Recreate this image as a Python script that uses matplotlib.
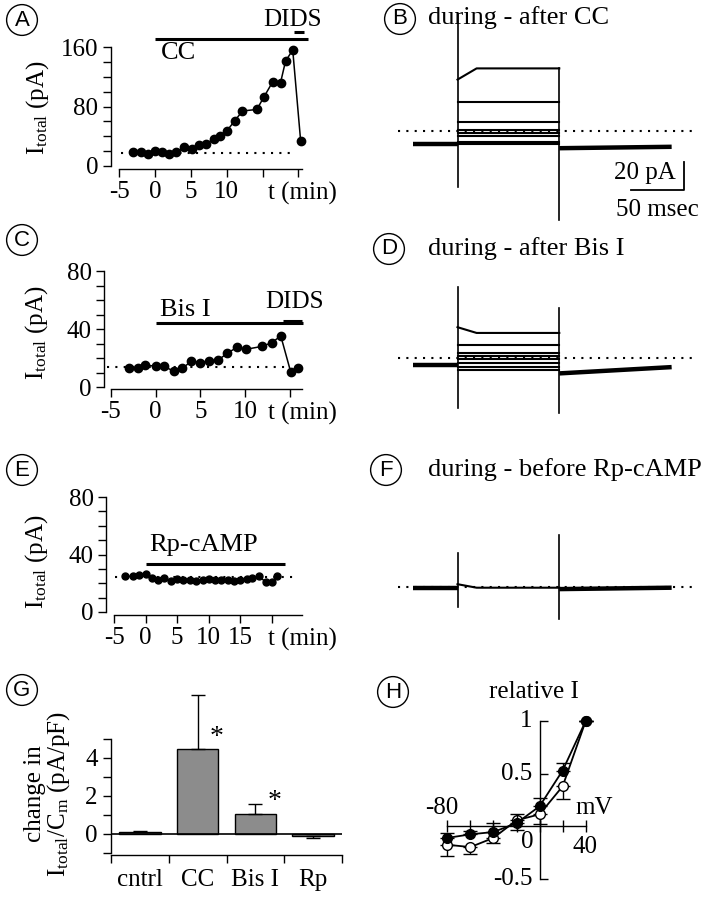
import matplotlib
matplotlib.use('Agg')
import matplotlib.pyplot as plt
from matplotlib.ticker import FixedLocator, NullFormatter

W, H = 709, 900
plt.rcParams['font.family'] = ['Liberation Serif', 'DejaVu Serif']
plt.rcParams['mathtext.fontset'] = 'custom'
plt.rcParams['mathtext.rm'] = 'Liberation Serif'
plt.rcParams['mathtext.it'] = 'Liberation Serif:italic'
plt.rcParams['font.size'] = 18
plt.rcParams['axes.linewidth'] = 1.0
plt.rcParams['xtick.major.width'] = 1.0
plt.rcParams['ytick.major.width'] = 1.0
plt.rcParams['ytick.minor.width'] = 1.0

# ---------------- data ----------------
# Panel A (CC)
a_t = [-3.1, -2.0, -1.0, 0.0, 1.0, 2.0, 3.0, 4.1, 5.1, 6.1, 7.1, 8.2, 9.0, 10.0,
       11.1, 12.2, 14.2, 15.2, 16.4, 17.5, 18.2, 19.2, 20.3]
a_I = [18.8, 18.4, 16.6, 19.7, 18.4, 15.7, 18.8, 25, 23, 28, 30, 36, 41, 47,
       60.5, 74, 76, 93, 113, 112, 141, 156, 34]
a_base = 17
a_xticks = [-5, 0, 5, 10, 15, 20]
a_xlabels = ['-5', '0', '5', '10', '', '']

# Panel C (Bis I)
c_t = [-3.0, -2.0, -1.2, 0.0, 0.9, 2.0, 3.0, 4.0, 5.0, 6.0, 7.0, 8.0, 9.1, 10.1,
       11.9, 13.0, 14.0, 15.1, 15.9]
c_I = [13.3, 13.3, 15.2, 14.3, 14.3, 11.0, 12.9, 17.9, 16.8, 18.2, 18.6, 23.2,
       27.4, 26.0, 28.0, 30.6, 35.2, 10.6, 13.3]
c_base = 13.8
c_xticks = [-5, 0, 5, 10, 15]
c_xlabels = ['-5', '0', '5', '10', '']

# Panel E (Rp-cAMP)
e_t = [-3.2, -2.0, -1.0, 0.0, 1.0, 1.9, 2.9, 4.1, 5.0, 6.0, 7.0, 8.0, 9.1, 10.1,
       11.0, 12.0, 13.0, 14.0, 15.0, 16.0, 16.9, 17.9, 19.0, 20.0, 20.8]
e_I = [24.8, 24.8, 25.7, 26.2, 23.4, 22.5, 23.4, 21.6, 22.7, 22.5, 22.0, 21.4,
       22.3, 23.0, 22.4, 22.0, 22.0, 21.4, 22.3, 22.7, 23.4, 24.8, 21.1, 21.1, 24.8]
e_base = 24.3
e_xticks = [-5, 0, 5, 10, 15, 20]
e_xlabels = ['-5', '0', '5', '10', '15', '']

time_label = 't (min)'

# Panel G
g_cats = ['cntrl', 'CC', 'Bis I', 'Rp']
g_mean = [0.1, 4.47, 1.05, -0.1]
g_err = [0.05, 2.85, 0.55, 0.12]

# Panel H
h_mv = [-80, -60, -40, -20, 0, 20, 40]
h_filled = [-0.11, -0.076, -0.054, 0.03, 0.19, 0.53, 1.0]
h_filled_err = [0.044, 0.032, 0.085, 0.083, 0.076, 0.076, 0.0]
h_open = [-0.175, -0.197, -0.11, 0.057, 0.114, 0.38, 1.0]
h_open_err = [0.108, 0.063, 0.05, 0.095, 0.095, 0.12, 0.0]

# Current traces (ms, pA relative to holding)
tr_time = [0, 42, 138, 244]          # start, pulse on, pulse off, end
B_steps = [54, 30, 15.7, 10, 7.9, 5.7, 1.4, 0]
B_onset = 46
B_tail = [-3, -2]
B_spike_on = [93, -31]
B_spike_off = [54, -54]
B_dot = 9.3

D_steps = [22.9, 14.3, 8.6, 6.4, 4.3, 1.4, -1.4, -3.6]
D_onset = 27
D_tail = [-6, -1.5]
D_spike_on = [55.7, -30.7]
D_spike_off = [40.7, -34]
D_dot = 5

F_steps = [0]
F_onset = 2.5
F_tail = [-1, 0]
F_spike_on = [25, -13.6]
F_spike_off = [37.6, -22.6]
F_dot = 0.7

fig = plt.figure(figsize=(W / 100, H / 100), dpi=100)


def px_axes(x0, x1, y0, y1):
    return fig.add_axes([x0 / W, 1 - y0 / H, (x1 - x0) / W, (y0 - y1) / H])


def px2pt(p):
    return p * 72 / 100


def circ_label(x, y, s):
    fig.text(x / W, 1 - y / H, s, family=['Liberation Sans', 'DejaVu Sans'],
             fontsize=16, ha='center', va='center',
             bbox=dict(boxstyle='circle,pad=0.22', fc='white', ec='k', lw=1.0))


def style_time_axes(ax, left_off, bot_off, yticks, yminor, xticks, xlabels, tlabel_x):
    for s in ['top', 'right']:
        ax.spines[s].set_visible(False)
    ax.spines['left'].set_position(('outward', px2pt(left_off)))
    ax.spines['bottom'].set_position(('outward', px2pt(bot_off)))
    ax.set_yticks(yticks)
    ax.set_yticklabels([str(v) for v in yticks])
    ax.yaxis.set_minor_locator(FixedLocator(yminor))
    ax.set_xticks(xticks)
    ax.set_xticklabels(xlabels)
    ax.set_xticks([tlabel_x], minor=True)
    ax.set_xticklabels([time_label], minor=True)
    ax.tick_params(axis='both', which='both', direction='out', length=6, labelsize=18, pad=3)
    ax.tick_params(axis='x', which='minor', length=0, pad=9)
    ax.tick_params(axis='y', which='minor', length=6)
    ax.patch.set_alpha(0)


dot_ls = (0, (1, 3))

# ---------------- Panel A ----------------
ax = px_axes(119, 302, 166, 47)
ax.set_xlim(-5, 20)
ax.set_ylim(0, 160)
style_time_axes(ax, 8, 3, [0, 80, 160], list(range(0, 161, 20)), a_xticks, a_xlabels,
                (306 - 156) / 7.32)
ax.plot([-4.7, 19.6], [a_base, a_base], ls=dot_ls, lw=1.5, color='k')
ax.plot(a_t, a_I, '-o', color='k', ms=6, lw=1.1, clip_on=False)
ax.plot([0, 21.3], [171, 171], color='k', lw=2.2, clip_on=False, solid_capstyle='butt')
ax.text(0.9, 152, 'CC', ha='left', va='center', fontsize=19)
ax.plot([19.4, 20.8], [180, 180], color='k', lw=2.2, clip_on=False, solid_capstyle='butt')
ax.text(19.2, 196, 'DIDS', ha='center', va='center', fontsize=18)
ax.set_ylabel(r'I$_{\rm total}$ (pA)', fontsize=18)
ax.yaxis.set_label_coords(-0.37, 0.49)
circ_label(22, 20, 'A')

# ---------------- Panel C ----------------
ax = px_axes(111, 302, 387, 271)
ax.set_xlim(-5, 16)
ax.set_ylim(0, 80)
style_time_axes(ax, 7, 2, [0, 40, 80], list(range(0, 81, 10)), c_xticks, c_xlabels,
                (306 - 157) / 9.1)
ax.plot([-5.5, 14.6], [c_base, c_base], ls=dot_ls, lw=1.5, color='k', clip_on=False)
ax.plot(c_t, c_I, '-o', color='k', ms=6, lw=1.1, clip_on=False)
ax.plot([0, 16.5], [44, 44], color='k', lw=2.2, clip_on=False, solid_capstyle='butt')
ax.text(3.3, 53, 'Bis I', ha='center', va='center', fontsize=19)
ax.plot([14.3, 16.4], [45.5, 45.5], color='k', lw=2.2, clip_on=False, solid_capstyle='butt')
ax.text(15.5, 58.5, 'DIDS', ha='center', va='center', fontsize=18)
ax.set_ylabel(r'I$_{\rm total}$ (pA)', fontsize=18)
ax.yaxis.set_label_coords(-0.32, 0.47)
circ_label(22, 240, 'C')

# ---------------- Panel E ----------------
ax = px_axes(114, 302, 612, 497)
ax.set_xlim(-5, 24)
ax.set_ylim(0, 80)
style_time_axes(ax, 8, 3, [0, 40, 80], list(range(0, 81, 10)), e_xticks, e_xlabels,
                (307 - 146) / 6.5)
ax.plot([-4.8, 24], [e_base, e_base], ls=dot_ls, lw=1.5, color='k', clip_on=False)
ax.plot(e_t, e_I, '-o', color='k', ms=5, lw=1.1, clip_on=False)
ax.plot([0, 22], [33.5, 33.5], color='k', lw=2.2, clip_on=False, solid_capstyle='butt')
ax.text(9.2, 46.5, 'Rp-cAMP', ha='center', va='center', fontsize=19)
ax.set_ylabel(r'I$_{\rm total}$ (pA)', fontsize=18)
ax.yaxis.set_label_coords(-0.34, 0.44)
circ_label(22, 470, 'E')

# ---------------- Panel G ----------------
ax = px_axes(111, 342, 853, 739)
ax.set_xlim(-0.5, 3.5)
ax.set_ylim(-1, 5)
for s in ['top', 'right']:
    ax.spines[s].set_visible(False)
ax.spines['bottom'].set_position(('outward', px2pt(2)))
xpos = list(range(len(g_cats)))
lower = [0 if m > 0 else e for m, e in zip(g_mean, g_err)]
upper = [e if m > 0 else 0 for m, e in zip(g_mean, g_err)]
ax.bar(xpos, g_mean, width=0.72, color='#8c8c8c', edgecolor='k', linewidth=1.0, zorder=2)
eb = ax.errorbar(xpos, g_mean, yerr=[lower, upper], fmt='none', ecolor='k',
                 elinewidth=1.0, capsize=5, capthick=1.0, zorder=3)
for child in eb.get_children():
    child.set_clip_on(False)
ax.axhline(0, color='k', lw=1.2, zorder=3)
ax.set_yticks([0, 2, 4])
ax.set_yticklabels(['0', '2', '4'])
ax.yaxis.set_minor_locator(FixedLocator([-1, 1, 3, 5]))
ax.set_xticks([-0.5, 0.5, 1.5, 2.5, 3.5])
ax.xaxis.set_major_formatter(NullFormatter())
ax.set_xticks(xpos, minor=True)
ax.set_xticklabels(g_cats, minor=True)
ax.tick_params(axis='x', which='minor', length=0, labelsize=18, pad=10)
ax.tick_params(axis='x', which='major', direction='out', length=6)
ax.tick_params(axis='y', which='both', direction='out', length=6, labelsize=18)
ax.text(1.32, 5.1, '*', ha='center', va='center', fontsize=20)
ax.text(2.34, 1.7, '*', ha='center', va='center', fontsize=20)
ax.set_ylabel('change in\n' + r'I$_{\rm total}$/C$_{\rm m}$ (pA/pF)', fontsize=18,
              linespacing=0.95)
ax.yaxis.set_label_coords(-0.17, 0.52)
ax.patch.set_alpha(0)
circ_label(22, 690, 'G')

# ---------------- Panel H ----------------
ax = px_axes(447.3, 585.7, 879, 721)
ax.set_xlim(-80, 40)
ax.set_ylim(-0.5, 1)
for s in ['top', 'right']:
    ax.spines[s].set_visible(False)
ax.spines['left'].set_position('zero')
ax.spines['bottom'].set_position('zero')
ax.set_xticks(h_mv)
ax.set_yticks([-0.5, 0.5, 1])
ax.xaxis.set_major_formatter(NullFormatter())
ax.yaxis.set_major_formatter(NullFormatter())
ax.tick_params(axis='x', direction='inout', length=9)
ax.tick_params(axis='y', direction='in', length=6)
ax.errorbar(h_mv, h_open, yerr=[h_open_err, [0] * len(h_mv)], fmt='-o', color='k',
            mfc='white', mec='k', ms=7, lw=1.3, capsize=5, elinewidth=1.0,
            clip_on=False, zorder=3)
ax.errorbar(h_mv, h_filled, yerr=[[0] * len(h_mv), h_filled_err], fmt='-o', color='k',
            mfc='k', mec='k', ms=7, lw=1.3, capsize=5, elinewidth=1.0,
            clip_on=False, zorder=4)
ax.text(-6, 1.0, '1', ha='right', va='center', fontsize=18)
ax.text(-6, 0.5, '0.5', ha='right', va='center', fontsize=18)
ax.text(-6, -0.5, '-0.5', ha='right', va='center', fontsize=18)
ax.text(-84.7, 0.17, '-80', ha='center', va='center', fontsize=18)
ax.text(-10.7, -0.15, '0', ha='center', va='center', fontsize=18)
ax.text(39, -0.2, '40', ha='center', va='center', fontsize=18)
ax.text(47.7, 0.17, 'mV', ha='center', va='center', fontsize=18)
ax.text(-5, 1.28, 'relative I', ha='center', va='center', fontsize=18)
ax.patch.set_alpha(0)
circ_label(393, 692, 'H')


# ---------------- Current traces ----------------
def trace_panel(base_px, steps, onset, tail, spk_on, spk_off, dot):
    # 0 ms at x=413 px, 1.06 px/ms ; 0 pA at base_px, 1.4 px/pA
    x0 = 413 - 20 * 1.06
    x1 = 413 + 280 * 1.06
    y0 = base_px + 70 * 1.4
    y1 = base_px - 110 * 1.4
    ax = px_axes(x0, x1, y0, y1)
    ax.set_xlim(-20, 280)
    ax.set_ylim(-70, 110)
    ax.axis('off')
    t0, ton, toff, tend = tr_time
    ax.plot([-14, 263], [dot, dot], ls=dot_ls, lw=1.5, color='k')
    ax.plot([t0, ton], [0, 0], color='k', lw=3.2, solid_capstyle='butt')
    ax.plot([toff, tend], tail, color='k', lw=3.2, solid_capstyle='butt')
    for i, L in enumerate(steps):
        if i == 0:
            xs = [ton, ton + 18, toff]
            ys = [onset, L, L]
        else:
            xs = [ton, toff]
            ys = [L, L]
        ax.plot(xs, ys, color='k', lw=1.5)
    ax.plot([ton, ton], spk_on, color='k', lw=1.2)
    ax.plot([toff, toff], spk_off, color='k', lw=1.2)
    return ax


axB = trace_panel(144, B_steps, B_onset, B_tail, B_spike_on, B_spike_off, B_dot)
# scale bar 20 pA / 50 msec
axB.plot([205.7, 255.7, 255.7], [-32.9, -32.9, -12.9], color='k', lw=1.3)
axB.text(219, -20.7, '20 pA', ha='center', va='center', fontsize=18)
axB.text(231, -47, '50 msec', ha='center', va='center', fontsize=18)
circ_label(400, 19, 'B')
fig.text(428 / W, 1 - 18 / H, 'during - after CC', ha='left', va='center', fontsize=19)

trace_panel(365, D_steps, D_onset, D_tail, D_spike_on, D_spike_off, D_dot)
circ_label(389, 249, 'D')
fig.text(428 / W, 1 - 249 / H, 'during - after Bis I', ha='left', va='center', fontsize=19)

trace_panel(587.7, F_steps, F_onset, F_tail, F_spike_on, F_spike_off, F_dot)
circ_label(386, 470, 'F')
fig.text(428 / W, 1 - 470 / H, 'during - before Rp-cAMP', ha='left', va='center', fontsize=19)

fig.savefig('out.png', dpi=100)
